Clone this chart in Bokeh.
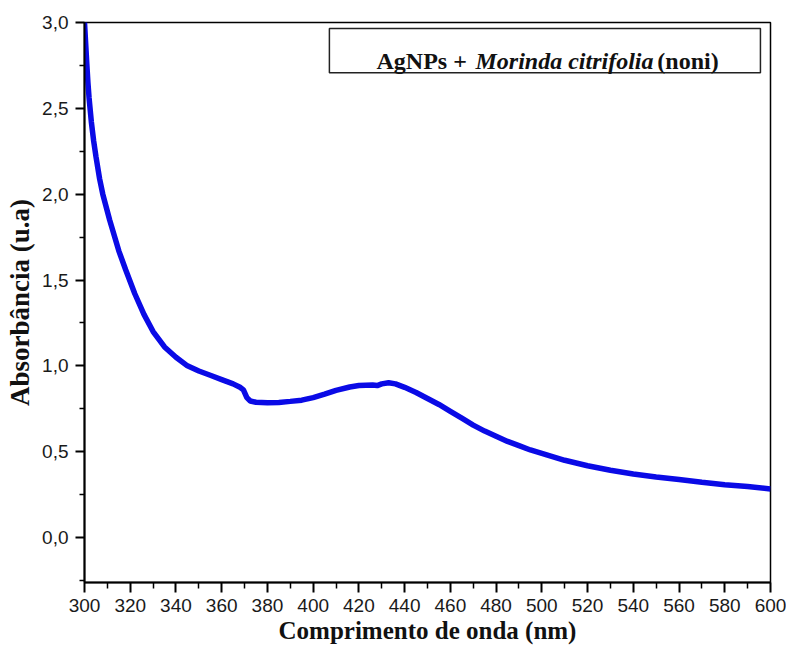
from bokeh.plotting import figure
from bokeh.models import FixedTicker, CustomJSTickFormatter, Range1d, BoxAnnotation, Label
from bokeh.embed import file_html
from bokeh.resources import INLINE

# Data
wavelength = [300, 300.5, 301, 301.5, 302, 303, 304, 305, 306.6, 308, 311, 315, 318,
              322, 326, 330, 335, 340, 345, 350, 355, 360, 365, 368, 369.5, 371,
              372.5, 375, 380, 385, 390, 395, 400, 405, 410, 416, 420, 426, 428,
              430, 433, 436, 440, 445, 450, 455, 460, 465, 470, 475, 480, 485, 490,
              495, 500, 510, 520, 530, 540, 550, 560, 570, 580, 590, 600]
absorbance = [3.00, 2.88, 2.76, 2.65, 2.56, 2.42, 2.31, 2.22, 2.09, 2.00, 1.85, 1.67,
              1.56, 1.42, 1.30, 1.20, 1.11, 1.05, 1.00, 0.97, 0.945, 0.92, 0.895,
              0.875, 0.86, 0.815, 0.795, 0.788, 0.785, 0.787, 0.793, 0.80, 0.815,
              0.835, 0.857, 0.877, 0.885, 0.888, 0.885, 0.895, 0.902, 0.895, 0.875,
              0.845, 0.81, 0.775, 0.735, 0.695, 0.655, 0.62, 0.59, 0.56, 0.535, 0.51,
              0.49, 0.45, 0.418, 0.392, 0.37, 0.353, 0.338, 0.322, 0.308, 0.297,
              0.283]

x_ticks = list(range(300, 601, 20))
x_minor = list(range(310, 600, 20))
y_ticks = [0.0, 0.5, 1.0, 1.5, 2.0, 2.5, 3.0]
y_minor = [-0.25, 0.25, 0.75, 1.25, 1.75, 2.25, 2.75]

title_parts = ["AgNPs +", "Morinda citrifolia", "(noni)"]

p = figure(width=786, height=652, output_backend="svg", toolbar_location=None,
           x_range=Range1d(300, 600), y_range=Range1d(-0.262, 3.0),
           min_border_left=84, min_border_right=16, min_border_top=22,
           min_border_bottom=70)

p.line(wavelength, absorbance, line_color="#0a0ae6", line_width=5.5)

p.xgrid.visible = False
p.ygrid.visible = False
p.outline_line_color = "black"
p.outline_line_width = 1.5
p.outline_line_alpha = 1.0

for ax in (p.xaxis[0], p.yaxis[0]):
    ax.axis_line_width = 2
    ax.axis_line_color = "black"
    ax.major_tick_line_width = 2
    ax.minor_tick_line_width = 1.5
    ax.major_tick_in = 0
    ax.minor_tick_in = 0
    ax.major_label_text_font = "Liberation Sans"
    ax.major_label_text_font_size = "19px"
    ax.major_label_text_color = "#1a1a1a"
    ax.axis_label_text_font = "Liberation Serif"
    ax.axis_label_text_font_style = "bold"
    ax.axis_label_text_color = "#111111"

p.xaxis.axis_label_text_font_size = "25px"
p.yaxis.axis_label_text_font_size = "27px"
p.xaxis.ticker = FixedTicker(ticks=x_ticks, minor_ticks=x_minor)
p.yaxis.ticker = FixedTicker(ticks=y_ticks, minor_ticks=y_minor)
p.xaxis.major_tick_out = 10
p.xaxis.minor_tick_out = 6
p.yaxis.major_tick_out = 9
p.yaxis.minor_tick_out = 5
p.xaxis.major_label_standoff = 6
p.yaxis.major_label_standoff = 7
p.xaxis.axis_label = "Comprimento de onda (nm)"
p.yaxis.axis_label = "Absorbância (u.a)"
p.xaxis.axis_label_standoff = 2
p.yaxis.axis_label_standoff = 4
p.yaxis.formatter = CustomJSTickFormatter(code="return tick.toFixed(1).replace('.', ',');")

box = BoxAnnotation(left=407.1, right=595.6, top=2.965, bottom=2.708,
                    fill_color="white", fill_alpha=1.0,
                    line_color="#222222", line_width=1.5, line_alpha=1.0)
p.add_layout(box)

label_x = [427.7, 471.0, 550.5]
styles = ["bold", "bold italic", "bold"]
for txt, lx, st in zip(title_parts, label_x, styles):
    p.add_layout(Label(x=lx, y=2.778, text=txt, text_font="Liberation Serif",
                       text_font_style=st, text_font_size="24px",
                       text_baseline="alphabetic", text_color="#111111"))

open("out.html", "w").write(file_html(p, INLINE))
